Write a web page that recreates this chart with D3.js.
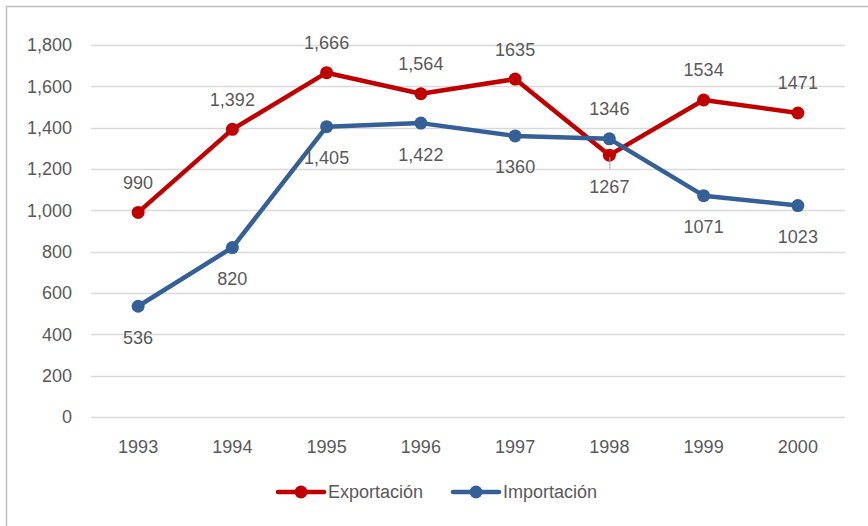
<!DOCTYPE html>
<html>
<head>
<meta charset="utf-8">
<script src="https://d3js.org/d3.v7.min.js"></script>
<style>
body { margin: 0; background: #fff; }
text { font-family: "Liberation Sans", Arial, sans-serif; fill: #595959; }
</style>
</head>
<body>
<div id="chart"></div>
<script>
var years = ["1993", "1994", "1995", "1996", "1997", "1998", "1999", "2000"];
var exportacion = [990, 1392, 1666, 1564, 1635, 1267, 1534, 1471];
var importacion = [536, 820, 1405, 1422, 1360, 1346, 1071, 1023];
// labels as printed in the original (mixed formatting)
var expLabels = ["990", "1,392", "1,666", "1,564", "1635", "1267", "1534", "1471"];
var impLabels = ["536", "820", "1,405", "1,422", "1360", "1346", "1071", "1023"];
var expSide = ["up", "up", "up", "up", "up", "down", "up", "up"];
var impSide = ["down", "down", "down", "down", "down", "up", "down", "down"];
var yTicks = [0, 200, 400, 600, 800, 1000, 1200, 1400, 1600, 1800];

var width = 868, height = 526;
var red = "#c00000", blue = "#356097";

var svg = d3.select("#chart").append("svg")
	.attr("width", width)
	.attr("height", height);

// chart frame (runs off the right / bottom edge)
svg.append("rect")
	.attr("x", 6.5).attr("y", 6.5)
	.attr("width", 900).attr("height", 600)
	.attr("fill", "none")
	.attr("stroke", "#bfbfbf")
	.attr("stroke-width", 1.5);

var x = d3.scaleBand().domain(years).range([91, 845]);
var y = d3.scaleLinear().domain([0, 1800]).range([417, 45]);

// gridlines
svg.append("g").selectAll("line")
	.data(yTicks)
	.enter()
	.append("line")
	.attr("x1", 91).attr("x2", 845)
	.attr("y1", function(d) { return Math.round(y(d)) + 0.5; })
	.attr("y2", function(d) { return Math.round(y(d)) + 0.5; })
	.attr("stroke", "#d9d9d9")
	.attr("stroke-width", 1.5);

var fmt = d3.format(",");
svg.append("g").selectAll("text")
	.data(yTicks)
	.enter()
	.append("text")
	.attr("x", 72)
	.attr("y", function(d) { return y(d); })
	.attr("dy", "0.36em")
	.attr("text-anchor", "end")
	.style("font-size", "18px")
	.text(function(d) { return fmt(d); });

svg.append("g").selectAll("text")
	.data(years)
	.enter()
	.append("text")
	.attr("x", function(d) { return x(d) + x.bandwidth() / 2; })
	.attr("y", 447)
	.attr("dy", "0.36em")
	.attr("text-anchor", "middle")
	.style("font-size", "18px")
	.text(function(d) { return d; });

function cx(i) { return x(years[i]) + x.bandwidth() / 2; }

var line = d3.line()
	.x(function(d, i) { return cx(i); })
	.y(function(d) { return y(d); });

function drawSeries(values, color) {
	svg.append("path")
		.datum(values)
		.attr("d", line)
		.attr("fill", "none")
		.attr("stroke", color)
		.attr("stroke-width", 4.5)
		.attr("stroke-linejoin", "round");
	svg.append("g").selectAll("circle")
		.data(values)
		.enter()
		.append("circle")
		.attr("cx", function(d, i) { return cx(i); })
		.attr("cy", function(d) { return y(d); })
		.attr("r", 6.5)
		.attr("fill", color);
}

drawSeries(exportacion, red);
drawSeries(importacion, blue);

// leader line for 1998 export label
svg.append("line")
	.attr("x1", cx(5) + 0.5).attr("x2", cx(5) + 0.5)
	.attr("y1", y(exportacion[5]) + 2)
	.attr("y2", y(exportacion[5]) + 14)
	.attr("stroke", "#a6a6a6")
	.attr("stroke-width", 1);

function drawLabels(values, labels, side) {
	svg.append("g").selectAll("text")
		.data(values)
		.enter()
		.append("text")
		.attr("x", function(d, i) { return cx(i); })
		.attr("y", function(d, i) { return y(d) + (side[i] == "up" ? -30 : 31); })
		.attr("dy", "0.36em")
		.attr("text-anchor", "middle")
		.style("font-size", "18px")
		.text(function(d, i) { return labels[i]; });
}

drawLabels(exportacion, expLabels, expSide);
drawLabels(importacion, impLabels, impSide);

// legend
var legend = [
	{name: "Exportación", color: red, x: 278},
	{name: "Importación", color: blue, x: 453}
];
var lg = svg.append("g").selectAll("g")
	.data(legend)
	.enter()
	.append("g")
	.attr("transform", function(d) { return "translate(" + d.x + ",492)"; });
lg.append("line")
	.attr("x1", 0).attr("x2", 46)
	.attr("y1", 0).attr("y2", 0)
	.attr("stroke", function(d) { return d.color; })
	.attr("stroke-width", 4.5)
	.attr("stroke-linecap", "round");
lg.append("circle")
	.attr("cx", 23).attr("cy", 0).attr("r", 6.5)
	.attr("fill", function(d) { return d.color; });
lg.append("text")
	.attr("x", 50).attr("y", 0)
	.attr("dy", "0.36em")
	.style("font-size", "18px")
	.text(function(d) { return d.name; });
</script>
</body>
</html>
